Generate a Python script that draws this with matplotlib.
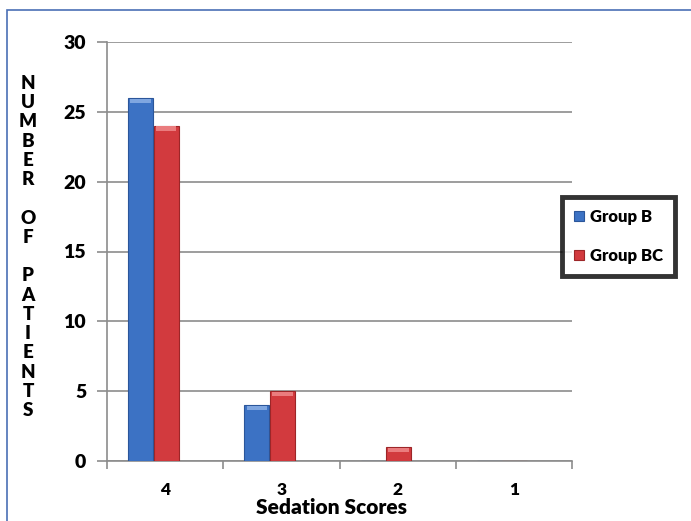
import matplotlib
matplotlib.use("Agg")
import matplotlib.pyplot as plt
from matplotlib.patches import Rectangle
import numpy as np

categories = ["4", "3", "2", "1"]
group_b = [26, 4, 0, 0]
group_bc = [24, 5, 1, 0]
series_names = ["Group B", "Group BC"]
y_ticks = [0, 5, 10, 15, 20, 25, 30]
ylabel_letters = "NUMBER OF PATIENTS"
xlabel = "Sedation Scores"

plt.rcParams['font.family'] = ['Lato', 'DejaVu Sans']
FW = 'heavy'

W, H = 691, 521
fig = plt.figure(figsize=(W/100, H/100), dpi=100)
ax = fig.add_axes([107/W, 1-461/H, (572-107)/W, (461-42)/H])

# figure border
fig.patches.append(Rectangle((7/W, -0.1), 1.2, 1-10/H+0.1, transform=fig.transFigure,
                             fill=False, edgecolor='#4a6fb5', linewidth=1.2, clip_on=False))

x = np.arange(len(categories))
bw = 0.215
blue = '#3c72c4'
red = '#d23a3e'
bb = ax.bar(x - 0.211, group_b, bw, color=blue, edgecolor='#2b569a', linewidth=0.8, zorder=3, label=series_names[0])
br = ax.bar(x + 0.009, group_bc, bw, color=red, edgecolor='#9c2628', linewidth=0.8, zorder=3, label=series_names[1])

# bevel highlight on tops
for bars, hc in ((bb, '#7fa6e0'), (br, '#ea7c7e')):
    for r in bars:
        h = r.get_height()
        if h > 0:
            ax.add_patch(Rectangle((r.get_x()+0.02, h-0.35), r.get_width()-0.04, 0.3,
                                   facecolor=hc, edgecolor='none', zorder=4))

ax.set_xlim(-0.5, len(categories)-0.5)
ax.set_ylim(0, 30)
ax.set_yticks(y_ticks)
ax.set_yticklabels([str(t) for t in y_ticks], fontsize=14, fontweight=FW)
ax.set_xticks(x)
ax.set_xticklabels(categories, fontsize=12.5, fontweight=FW)
ax.set_xticks(np.arange(len(categories)+1)-0.5, minor=True)
ax.tick_params(axis='x', which='major', length=0, pad=15)
ax.tick_params(axis='x', which='minor', length=6, color='#8c8c8c', width=1.2)
ax.tick_params(axis='y', length=7, color='#8c8c8c', width=1.2, pad=8)
ax.grid(axis='y', color='#8c8c8c', linewidth=1.2, zorder=0)
ax.set_axisbelow(True)
for s in ['top', 'right']:
    ax.spines[s].set_visible(False)
for s in ['left', 'bottom']:
    ax.spines[s].set_color('#8c8c8c')
    ax.spines[s].set_linewidth(1.2)

fig.text(332/W, 1-507/H, xlabel, ha='center', va='center', fontsize=15, fontweight=FW)
fig.text(28/W, 1-247/H, "\n".join(list(ylabel_letters)), ha='center', va='center',
         fontsize=13.5, fontweight=FW, linespacing=1.16)

leg = fig.legend(handles=[bb, br], labels=series_names, loc='upper left',
                 bbox_to_anchor=(562/W, 1-197/H), frameon=True, fancybox=False,
                 prop={'size': 12, 'weight': FW}, handlelength=0.6, handleheight=0.6,
                 handletextpad=0.4, labelspacing=1.4, borderpad=0.7, borderaxespad=0)
leg.get_frame().set_edgecolor('black')
leg.get_frame().set_linewidth(3.5)

fig.savefig("out.png", dpi=100)
